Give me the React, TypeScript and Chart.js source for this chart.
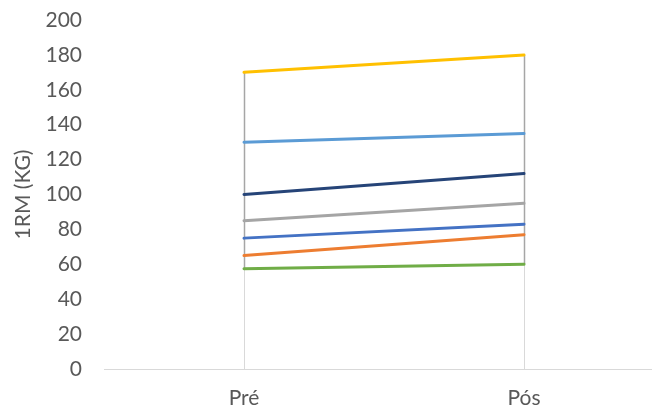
import { useEffect, useRef } from "react";
import { Chart, registerables } from "chart.js";

Chart.register(...registerables);

// Categories on the x axis
const categories = ["Pré", "Pós"];

// 1RM per subject, [Pré, Pós]
const subject1 = [75, 83];
const subject2 = [65, 77];
const subject3 = [85, 95];
const subject4 = [170, 180];
const subject5 = [130, 135];
const subject6 = [57.5, 60];
const subject7 = [100, 112];

const seriesValues = [subject1, subject2, subject3, subject4, subject5, subject6, subject7];
const seriesNames = ["Sujeito 1", "Sujeito 2", "Sujeito 3", "Sujeito 4", "Sujeito 5", "Sujeito 6", "Sujeito 7"];
const seriesColors = ["#4472C4", "#ED7D31", "#A5A5A5", "#FFC000", "#5B9BD5", "#70AD47", "#264478"];

const yMin = 0;
const yMax = 200;
const yStep = 20;

const axisTitle = "1RM (KG)";
const textColor = "#595959";
const fontFamily = "Lato, 'Open Sans', sans-serif";

// Drop lines from the highest point to the axis, plus high-low lines
const dropLines = {
  id: "dropLines",
  beforeDatasetsDraw(chart: any) {
    const { ctx } = chart;
    const x = chart.scales.x;
    const y = chart.scales.y;
    const base = y.getPixelForValue(yMin);
    categories.forEach((_, i) => {
      const vals = seriesValues.map((s) => s[i]);
      const px = Math.round(x.getPixelForValue(i)) + 0.5;
      const top = y.getPixelForValue(Math.max(...vals));
      const low = y.getPixelForValue(Math.min(...vals));
      ctx.save();
      ctx.strokeStyle = "#D9D9D9";
      ctx.lineWidth = 1;
      ctx.beginPath();
      ctx.moveTo(px, top);
      ctx.lineTo(px, base);
      ctx.stroke();
      ctx.strokeStyle = "#A6A6A6";
      ctx.lineWidth = 1.5;
      ctx.beginPath();
      ctx.moveTo(px, top);
      ctx.lineTo(px, low);
      ctx.stroke();
      ctx.restore();
    });
  },
};

export default function App() {
  const canvasRef = useRef<HTMLCanvasElement | null>(null);

  useEffect(() => {
    document.body.style.margin = "0";
    const canvas = canvasRef.current;
    if (!canvas) return;

    const chart = new Chart(canvas, {
      type: "line",
      data: {
        datasets: seriesValues.map((vals, k) => ({
          label: seriesNames[k],
          data: vals.map((v, i) => ({ x: i, y: v })),
          borderColor: seriesColors[k],
          backgroundColor: seriesColors[k],
          borderWidth: 3,
          borderCapStyle: "round" as const,
          pointRadius: 0,
          pointHoverRadius: 0,
          tension: 0,
        })),
      },
      options: {
        animation: false,
        responsive: false,
        events: [],
        layout: { padding: { top: 20, right: 1, bottom: 0, left: 0 } },
        plugins: {
          legend: { display: false },
          tooltip: { enabled: false },
        },
        scales: {
          x: {
            type: "linear",
            min: -0.5,
            max: 1.4536,
            afterBuildTicks: (scale: any) => {
              scale.ticks = categories.map((_, i) => ({ value: i }));
            },
            afterFit: (scale: any) => {
              scale.height = 43;
            },
            grid: { display: false, drawTicks: false },
            border: { display: true, color: "#D9D9D9", width: 1 },
            ticks: {
              autoSkip: false,
              maxRotation: 0,
              padding: 17,
              color: textColor,
              font: { family: fontFamily, size: 21 },
              callback: (v: any) => categories[v as number] ?? "",
            },
          },
          y: {
            min: yMin,
            max: yMax,
            afterFit: (scale: any) => {
              scale.width = 104;
              scale.paddingTop = 0;
              scale.paddingBottom = 0;
            },
            grid: { display: false, drawTicks: false },
            border: { display: false },
            ticks: {
              stepSize: yStep,
              padding: 22,
              color: textColor,
              font: { family: fontFamily, size: 21 },
            },
            title: {
              display: true,
              text: axisTitle,
              color: textColor,
              font: { family: fontFamily, size: 21 },
              padding: { top: 11, bottom: 0 },
            },
          },
        },
      },
      plugins: [dropLines],
    });

    return () => chart.destroy();
  }, []);

  return (
    <div style={{ width: 652, height: 412 }}>
      <canvas ref={canvasRef} width={652} height={412} />
    </div>
  );
}
